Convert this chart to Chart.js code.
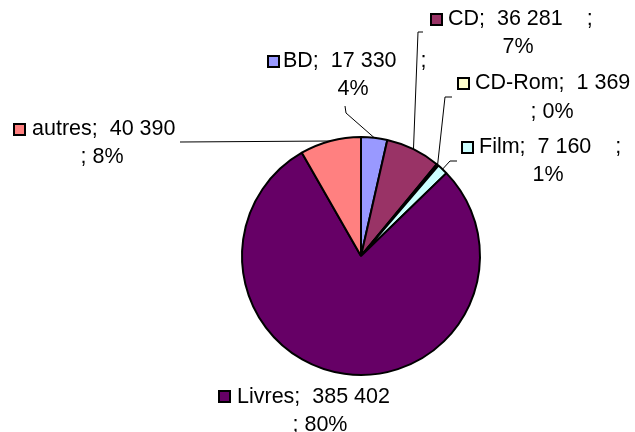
<!DOCTYPE html>
<html>
<head>
<meta charset="utf-8">
<script src="https://cdn.jsdelivr.net/npm/chart.js@4"></script>
<style>
html,body{margin:0;padding:0;background:#fff;}
canvas{display:block;}
</style>
</head>
<body>
<canvas id="c" width="635" height="432"></canvas>
<script>
// ---- data ----
const categories = ["BD", "CD", "CD-Rom", "Film", "Livres", "autres"];
const values = [17330, 36281, 1369, 7160, 385402, 40390];
const percentLabels = ["4%", "7%", "0%", "1%", "80%", "8%"];
const colors = ["#9999FF", "#993366", "#FFFFCC", "#CCFFFF", "#660066", "#FF8080"];

function fmtNum(v) {
  return String(v).replace(/\B(?=(\d{3})+(?!\d))/g, " ");
}

// label placement (layout only)
const placement = [
  { sq: [267, 55], x1: 283, y1: 61, x2: 353, y2: 89, breakAfter: true,  leader: [[345,106],[346,113]] },
  { sq: [430, 13], x1: 448, y1: 19, x2: 518, y2: 47, breakAfter: true,  leader: [[423,32],[418,32]] },
  { sq: [457, 77], x1: 475, y1: 83, x2: 552, y2: 112, breakAfter: false, leader: [[452,97],[445,97]] },
  { sq: [461, 141], x1: 479, y1: 147, x2: 548, y2: 175, breakAfter: true, leader: [[457,161],[450,161]] },
  { sq: [218, 390], x1: 237, y1: 397, x2: 320, y2: 425, breakAfter: false, leader: null },
  { sq: [13, 123], x1: 32, y1: 129, x2: 102, y2: 157, breakAfter: false, leader: [[180,142]] }
];

const labelPlugin = {
  id: 'excelLabels',
  afterDatasetsDraw(chart) {
    const ctx = chart.ctx;
    const meta = chart.getDatasetMeta(0);
    ctx.save();
    ctx.font = '21.5px "Liberation Sans", Arial, sans-serif';
    ctx.fillStyle = '#000';
    ctx.textBaseline = 'middle';
    meta.data.forEach((arc, i) => {
      const p = placement[i];
      const num = fmtNum(chart.data.datasets[0].data[i]);
      const name = chart.data.labels[i];
      let l1, l2;
      if (p.breakAfter) { l1 = name + ";  " + num + "    ;"; l2 = percentLabels[i]; }
      else { l1 = name + ";  " + num; l2 = "; " + percentLabels[i]; }
      // leader line
      if (p.leader) {
        const mid = (arc.startAngle + arc.endAngle) / 2;
        const ex = arc.x + Math.cos(mid) * arc.outerRadius;
        const ey = arc.y + Math.sin(mid) * arc.outerRadius;
        ctx.beginPath();
        ctx.strokeStyle = '#000';
        ctx.lineWidth = 1;
        ctx.moveTo(p.leader[0][0], p.leader[0][1]);
        for (let k = 1; k < p.leader.length; k++) ctx.lineTo(p.leader[k][0], p.leader[k][1]);
        ctx.lineTo(ex, ey);
        ctx.stroke();
      }
      // legend key
      ctx.fillStyle = colors[i];
      ctx.fillRect(p.sq[0], p.sq[1], 12, 12);
      ctx.strokeStyle = '#000';
      ctx.lineWidth = 2;
      ctx.strokeRect(p.sq[0] + 1, p.sq[1] + 1, 11, 11);
      ctx.fillStyle = '#000';
      ctx.textAlign = 'left';
      ctx.fillText(l1, p.x1, p.y1);
      ctx.textAlign = 'center';
      ctx.fillText(l2, p.x2, p.y2);
    });
    ctx.restore();
  }
};

new Chart(document.getElementById('c'), {
  type: 'pie',
  data: {
    labels: categories,
    datasets: [{
      data: values,
      backgroundColor: colors,
      borderColor: '#000',
      borderWidth: 2
    }]
  },
  options: {
    responsive: false,
    animation: false,
    layout: { padding: { left: 241, right: 154, top: 136, bottom: 56 } },
    plugins: { legend: { display: false }, tooltip: { enabled: false } }
  },
  plugins: [labelPlugin]
});
</script>
</body>
</html>
